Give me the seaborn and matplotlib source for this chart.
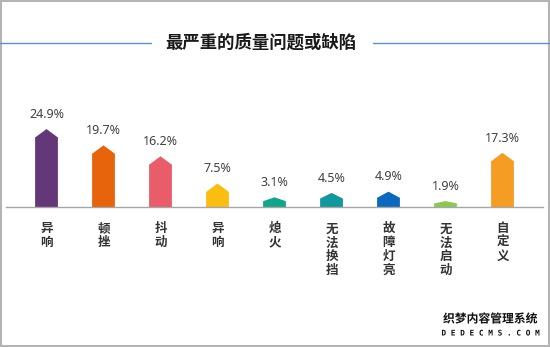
import matplotlib
matplotlib.use("Agg")
import matplotlib.pyplot as plt
import seaborn as sns
import numpy as np
import pandas as pd
from matplotlib.patches import Polygon, Rectangle
from matplotlib.lines import Line2D
import matplotlib.patheffects as pe

# ---- data ----
title = "最严重的质量问题或缺陷"
categories = ["异响", "顿挫", "抖动", "异响", "熄火", "无法换挡", "故障灯亮", "无法启动", "自定义"]
values = [24.9, 19.7, 16.2, 7.5, 3.1, 4.5, 4.9, 1.9, 17.3]
value_labels = ["24.9%", "19.7%", "16.2%", "7.5%", "3.1%", "4.5%", "4.9%", "1.9%", "17.3%"]
colors = ["#643878", "#e8640c", "#e95c69", "#fbbd12", "#13a58a", "#13979f", "#0b68bc", "#8cc653", "#f59c24"]

sns.set_theme(style="white")
plt.rcParams["font.family"] = ["Noto Sans CJK SC", "DejaVu Sans"]

W, H = 550, 347
fig = plt.figure(figsize=(W / 100, H / 100), dpi=100)
fig.patch.set_facecolor("white")

base_px = 207          # baseline y from top
top_px = 60
px_per_unit = 3.13
ax = fig.add_axes([6 / W, (H - base_px) / H, (543 - 6) / W, (base_px - top_px) / H])

ids = [str(i) for i in range(len(values))]
df = pd.DataFrame({"id": ids, "value": values})
sns.barplot(data=df, x="id", y="value", hue="id", palette=dict(zip(ids, colors)),
            legend=False, width=0.4, ax=ax, saturation=1)

# x mapping: bar centers at 46.5 + 57*i px
x_left = (6 - 46.5) / 57
x_right = (543 - 46.5) / 57
ax.set_xlim(x_left, x_right)
ax.set_ylim(0, (base_px - top_px) / px_per_unit)

# turn bars into pentagons
cap_full = 8.4 / px_per_unit
for p in list(ax.patches):
    x0, w, h = p.get_x(), p.get_width(), p.get_height()
    fc = p.get_facecolor()
    p.set_visible(False)
    cap = min(cap_full, 0.4 * h)
    poly = Polygon([[x0, 0], [x0 + w, 0], [x0 + w, h - cap], [x0 + w / 2, h],
                    [x0, h - cap]], closed=True, facecolor=fc, edgecolor="none")
    ax.add_patch(poly)

# value labels
for i, (v, lab) in enumerate(zip(values, value_labels)):
    ax.annotate(lab, (i, v), xytext=(0, 6), textcoords="offset points",
                ha="center", va="bottom", fontsize=9, color="#404040",
                family=["Noto Sans", "DejaVu Sans"])

# axis styling
for s in ["top", "right", "left"]:
    ax.spines[s].set_visible(False)
ax.spines["bottom"].set_color("#a6a6a6")
ax.spines["bottom"].set_linewidth(1.0)
ax.set_yticks([])
ax.set_xlabel("")
ax.set_ylabel("")
ax.set_xticks(range(len(categories)))
ax.set_xticklabels(["\n".join(c) for c in categories], fontsize=9, fontweight="bold",
                   color="#333333", va="top", linespacing=1.1)
ax.tick_params(axis="x", length=0, pad=11)
ax.set_facecolor("none")

# title with side lines
ty = 1 - 43 / H
fig.text(261 / W, ty, title, ha="center", va="center", fontsize=12.5, fontweight="bold",
         color="#1a1a1a")
fig.add_artist(Line2D([0, 151 / W], [ty, ty], color="#5b8fd0", lw=1.0))
fig.add_artist(Line2D([373 / W, 1], [ty, ty], color="#5b8fd0", lw=1.0))

# watermark
fig.text(490 / W, 1 - 319 / H, "织梦内容管理系统", ha="center", va="center", fontsize=8.5,
         fontweight="bold", color="#111111",
         path_effects=[pe.withStroke(linewidth=2, foreground="white")])
fig.text(490 / W, 1 - 333 / H, "D E D E C M S . C O M", ha="center", va="center", fontsize=5.6,
         fontweight="bold", color="#111111", family=["DejaVu Sans Mono", "DejaVu Sans"],
         path_effects=[pe.withStroke(linewidth=2, foreground="white")])

# outer frame
fig.add_artist(Rectangle((0.001, 0.002), 0.997, 0.995, transform=fig.transFigure,
                         fill=False, edgecolor="#b4b4b4", lw=1.5))

fig.savefig("out.png", dpi=100, facecolor="white")
